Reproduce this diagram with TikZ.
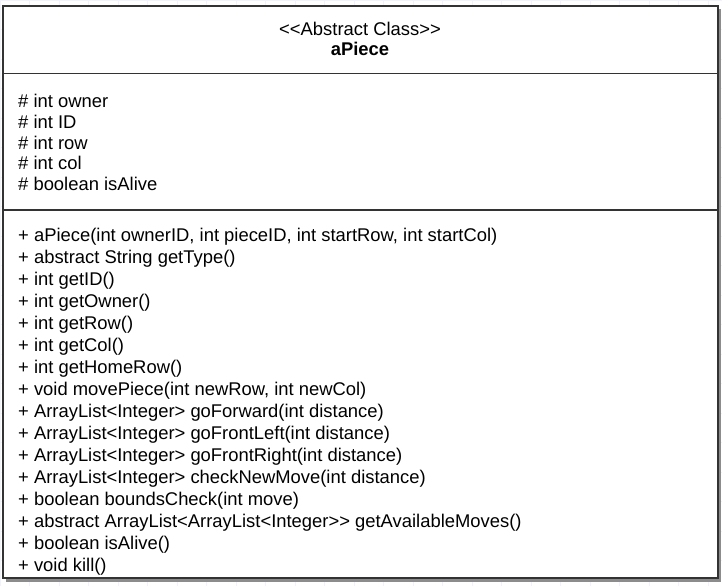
\documentclass[tikz,border=0pt]{standalone}
\usepackage{fontspec}
\setmainfont{Liberation Sans}
\begin{document}
\begin{tikzpicture}[x=1pt,y=1pt,
  umlline/.style={draw=black!80,line width=1.8pt},
  member/.style={anchor=west,inner sep=0pt,font=\fontsize{18.4}{20}\selectfont},
  titletext/.style={anchor=center,inner sep=0pt,font=\fontsize{18.4}{20}\selectfont}]
\useasboundingbox (0,0) rectangle (722,-586);
\fill[white] (0,0) rectangle (722,-586);
\draw[blue!5,line width=0.5pt] (0,0) grid[step=29.5] (722,-586);
% shadow
\fill[black!45] (6,-9) rectangle (721,-582);
% box
\fill[white] (3,-6) rectangle (718,-578);
\coordinate (tl) at (3,-6);
\coordinate (br) at (718,-578);
\coordinate (d1l) at (3,-73.5);
\coordinate (d1r) at (718,-73.5);
\coordinate (d2l) at (3,-210);
\coordinate (d2r) at (718,-210);
\draw[umlline] (tl) rectangle (br);
\draw[umlline] (d1l) -- (d1r);
\draw[umlline] (d2l) -- (d2r);
% title
\node[titletext] (stereo) at (360,-29) {<{}<Abstract Class>{}>};
\node[titletext,font=\fontsize{18.4}{20}\selectfont\bfseries] (name) at (360,-49) {aPiece};
% attributes
\node[member] (a1) at (18,-101) {\# int owner};
\node[member] (a2) at (18,-121.8) {\# int ID};
\node[member] (a3) at (18,-142.6) {\# int row};
\node[member] (a4) at (18,-163.4) {\# int col};
\node[member] (a5) at (18,-184.2) {\# boolean isAlive};
% methods
\foreach \t [count=\i from 0] in {
  {+ aPiece(int ownerID, int pieceID, int startRow, int startCol)},
  {+ abstract String getType()},
  {+ int getID()},
  {+ int getOwner()},
  {+ int getRow()},
  {+ int getCol()},
  {+ int getHomeRow()},
  {+ void movePiece(int newRow, int newCol)},
  {+ ArrayList<Integer> goForward(int distance)},
  {+ ArrayList<Integer> goFrontLeft(int distance)},
  {+ ArrayList<Integer> goFrontRight(int distance)},
  {+ ArrayList<Integer> checkNewMove(int distance)},
  {+ boolean boundsCheck(int move)},
  {+ abstract ArrayList<ArrayList<Integer>{}> getAvailableMoves()},
  {+ boolean isAlive()},
  {+ void kill()}}
  \node[member] (m\i) at (18,{-236.5-\i*22}) {\t};
\end{tikzpicture}
\end{document}
